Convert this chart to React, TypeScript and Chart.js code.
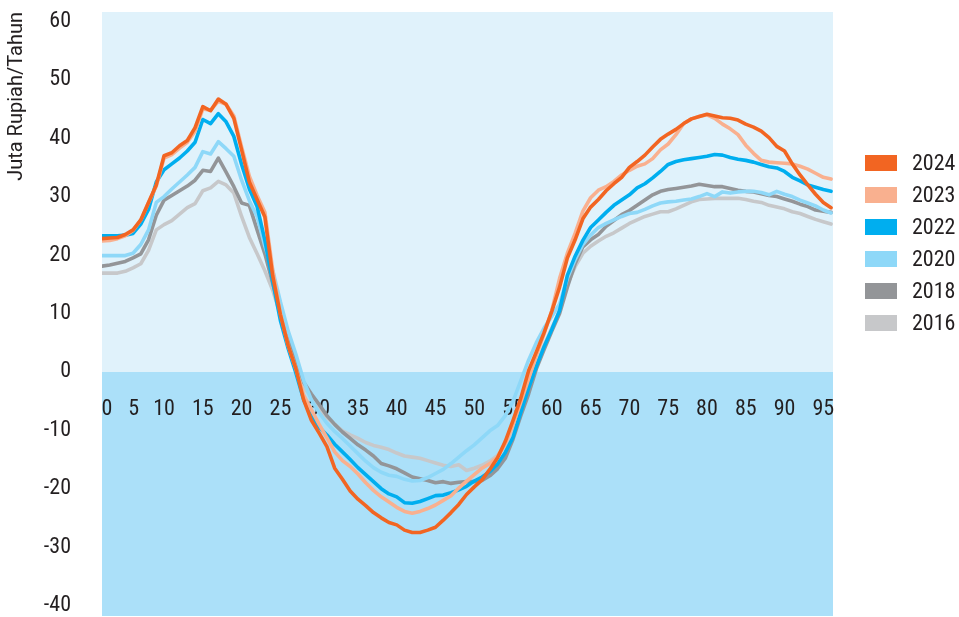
import React, { useEffect, useRef } from "react";
import { Chart, registerables } from "chart.js";

Chart.register(...registerables);

// Ages 2..96 (first plotted age is 2; the axis starts there)
const FIRST_AGE = 2;
const AGE_COUNT = 95;
const ages: number[] = Array.from({ length: AGE_COUNT }, (_, i) => FIRST_AGE + i);

const seriesLabels = ["2024", "2023", "2022", "2020", "2018", "2016"];
const seriesColors = ["#f26522", "#f9b08f", "#00aeef", "#8ed8f8", "#939598", "#c7c8ca"];

const s2024 = [
  22.8, 22.9, 23.0, 23.5, 24.3, 26.0, 29.0, 32.0, 37.0, 37.5,
  38.7, 39.6, 41.8, 45.4, 44.7, 46.7, 45.8, 43.4, 38.0, 32.5,
  29.5, 26.5, 16.5, 9.8, 4.5, 0.5, -4.8, -8.3, -10.5, -12.8,
  -16.5, -18.4, -20.4, -21.8, -22.9, -24.1, -25.0, -25.8, -26.2, -27.1,
  -27.5, -27.5, -27.1, -26.6, -25.4, -24.1, -22.7, -21.0, -19.7, -18.5,
  -16.7, -14.7, -11.9, -8.3, -4.5, 0.2, 3.4, 6.7, 10.4, 14.5,
  19.5, 22.6, 26.2, 28.2, 29.5, 31.0, 32.2, 33.3, 35.0, 36.0,
  37.1, 38.5, 39.8, 40.7, 41.5, 42.5, 43.3, 43.7, 44.1, 43.8,
  43.5, 43.4, 43.1, 42.4, 41.9, 41.2, 40.1, 38.6, 37.8, 35.6,
  33.7, 32.0, 30.4, 29.0, 28.1,
];
const s2023 = [
  22.4, 22.5, 22.8, 23.3, 24.2, 26.0, 29.0, 31.8, 36.6, 37.2,
  38.3, 39.3, 41.2, 45.0, 44.8, 46.3, 45.8, 43.8, 38.5, 33.5,
  30.2, 27.3, 17.5, 10.0, 4.5, 0.5, -4.0, -6.5, -9.0, -11.3,
  -13.7, -15.2, -16.2, -17.5, -19.0, -20.3, -21.4, -22.3, -23.2, -23.9,
  -24.2, -23.9, -23.4, -22.8, -22.0, -21.2, -19.9, -18.7, -17.6, -16.5,
  -15.7, -14.6, -12.2, -9.0, -5.2, -1.2, 2.8, 6.5, 10.5, 16.0,
  20.3, 23.7, 27.5, 29.8, 31.1, 31.7, 32.6, 33.7, 34.5, 35.2,
  35.6, 36.5, 38.0, 39.0, 40.6, 42.5, 43.3, 43.7, 44.0, 43.4,
  42.4, 41.6, 40.6, 38.8, 37.4, 36.2, 35.9, 35.8, 35.7, 35.6,
  35.2, 34.7, 34.0, 33.3, 33.0,
];
const s2022 = [
  23.3, 23.3, 23.3, 23.4, 23.7, 25.3, 27.8, 32.5, 34.6, 35.6,
  36.6, 37.8, 39.3, 43.2, 42.5, 44.2, 42.8, 40.3, 35.5, 31.3,
  28.3, 22.5, 15.5, 8.8, 4.0, -0.2, -4.8, -7.5, -9.5, -10.8,
  -12.4, -13.7, -15.0, -16.4, -17.6, -18.8, -20.0, -20.9, -21.4, -22.4,
  -22.5, -22.2, -21.7, -21.2, -21.1, -20.7, -20.2, -19.6, -18.7, -18.0,
  -17.1, -15.8, -13.8, -11.2, -6.9, -2.8, 0.9, 4.3, 7.3, 10.5,
  16.5, 19.8, 22.5, 24.7, 26.0, 27.3, 28.5, 29.4, 30.3, 31.5,
  32.2, 33.2, 34.3, 35.5, 36.0, 36.3, 36.5, 36.7, 36.9, 37.2,
  37.1, 36.7, 36.4, 36.2, 35.9, 35.5, 35.1, 34.9, 34.3, 33.3,
  32.7, 32.0, 31.6, 31.2, 30.9,
];
const s2020 = [
  19.9, 19.9, 19.9, 19.9, 20.3, 21.8, 24.3, 29.0, 30.0, 31.3,
  32.5, 33.7, 35.0, 37.7, 37.3, 39.4, 38.2, 36.9, 32.8, 29.3,
  26.6, 21.5, 17.5, 12.0, 7.0, 3.0, -1.5, -4.8, -7.0, -8.8,
  -10.2, -11.4, -12.7, -14.0, -15.3, -16.4, -17.2, -17.7, -17.9, -18.4,
  -18.7, -18.6, -18.1, -17.4, -16.7, -15.7, -14.6, -13.5, -12.5, -11.3,
  -10.1, -9.2, -7.5, -5.0, -1.5, 2.0, 5.0, 7.5, 9.5, 11.6,
  16.0, 19.2, 21.8, 23.4, 24.7, 25.4, 26.0, 26.6, 27.1, 27.3,
  27.8, 28.4, 28.9, 29.1, 29.2, 29.4, 29.6, 30.0, 30.5, 30.0,
  30.8, 30.6, 30.8, 30.9, 30.9, 30.7, 30.3, 30.9, 30.4, 30.0,
  29.4, 28.9, 28.4, 27.7, 27.2,
];
const s2018 = [
  18.1, 18.3, 18.6, 18.9, 19.5, 20.2, 22.6, 26.8, 29.4, 30.2,
  31.0, 31.8, 32.8, 34.5, 34.3, 36.6, 34.2, 31.7, 28.9, 28.5,
  24.3, 20.2, 15.2, 10.5, 6.0, 2.0, -1.8, -3.8, -5.6, -7.5,
  -9.0, -10.3, -11.4, -12.5, -13.4, -14.4, -15.7, -16.1, -16.6, -17.3,
  -18.0, -18.3, -18.6, -19.0, -18.8, -19.1, -18.9, -18.8, -18.8, -18.6,
  -17.8, -16.6, -14.8, -11.5, -7.5, -3.8, 0.5, 3.8, 7.0, 10.0,
  14.5, 18.5, 21.4, 22.6, 23.5, 24.9, 25.9, 26.9, 27.6, 28.5,
  29.4, 30.3, 30.9, 31.2, 31.4, 31.6, 31.8, 32.1, 31.9, 31.7,
  31.7, 31.4, 31.1, 30.9, 30.8, 30.5, 30.2, 30.0, 29.6, 29.2,
  28.7, 28.3, 27.7, 27.5, 27.3,
];
const s2016 = [
  16.9, 16.9, 16.9, 17.2, 17.8, 18.5, 20.8, 24.3, 25.2, 25.9,
  27.0, 28.1, 28.8, 31.0, 31.5, 32.6, 32.0, 30.6, 26.6, 23.0,
  20.2, 17.3, 14.0, 9.8, 5.6, 1.4, -2.5, -4.4, -6.2, -7.8,
  -9.0, -10.1, -10.8, -11.4, -12.1, -12.6, -12.9, -13.3, -13.9, -14.4,
  -14.6, -14.8, -15.2, -15.6, -16.0, -16.2, -15.9, -16.9, -16.5, -16.0,
  -15.3, -14.3, -12.5, -9.8, -6.5, -2.2, 1.2, 4.5, 7.5, 10.4,
  15.0, 18.0, 20.3, 21.5, 22.4, 23.2, 23.8, 24.6, 25.4, 26.0,
  26.6, 27.0, 27.4, 27.4, 27.9, 28.5, 29.1, 29.5, 29.6, 29.7,
  29.7, 29.7, 29.7, 29.5, 29.2, 29.0, 28.5, 28.2, 27.9, 27.4,
  27.1, 26.6, 26.1, 25.7, 25.3,
];
const seriesValues = [s2024, s2023, s2022, s2020, s2018, s2016];

// Tick labels every 5 years; the first two labels sit nudged right, as in the source
const xTickLabels = ["0", "5", "10", "15", "20", "25", "30", "35", "40", "45", "50", "55", "60", "65", "70", "75", "80", "85", "90", "95"];
const xTickPositions = [2.65, 6.1, 10, 15, 20, 25, 30, 35, 40, 45, 50, 55, 60, 65, 70, 75, 80, 85, 90, 95];
const yTickValues = [-40, -30, -20, -10, 0, 10, 20, 30, 40, 50, 60];
const yTitle = "Juta Rupiah/Tahun";

const FONT = "'Liberation Sans Narrow', 'Arial Narrow', 'Roboto Condensed', Roboto, sans-serif";
const TITLE_FONT = "Roboto, 'Liberation Sans', sans-serif";
const TEXT_COLOR = "#231f20";
const BG_TOP = "#e0f2fb";
const BG_BOTTOM = "#abe0f9";

const bandsPlugin = {
  id: "bands",
  beforeDraw(chart: any) {
    const { ctx, chartArea: a, scales } = chart;
    const y0 = Math.round(scales.y.getPixelForValue(0));
    ctx.save();
    ctx.fillStyle = BG_TOP;
    ctx.fillRect(a.left, a.top, a.right - a.left, y0 - a.top);
    ctx.fillStyle = BG_BOTTOM;
    ctx.fillRect(a.left, y0, a.right - a.left, a.bottom - y0);
    ctx.restore();
  },
};

const legendPlugin = {
  id: "sideLegend",
  afterDraw(chart: any) {
    const { ctx, chartArea: a } = chart;
    const x0 = a.right + 32;
    ctx.save();
    ctx.font = `22px ${FONT}`;
    ctx.textBaseline = "middle";
    ctx.textAlign = "left";
    chart.data.datasets.forEach((ds: any, i: number) => {
      const cy = 163 + i * 32;
      ctx.fillStyle = ds.borderColor;
      ctx.fillRect(x0, cy - 8, 32, 16);
      ctx.fillStyle = TEXT_COLOR;
      ctx.fillText(ds.label, x0 + 47, cy + 1);
    });
    ctx.restore();
  },
};

export default function App() {
  const ref = useRef<HTMLCanvasElement | null>(null);

  useEffect(() => {
    if (!ref.current) return;
    const chart = new Chart(ref.current, {
      type: "line",
      data: {
        datasets: seriesLabels.map((label, k) => ({
          label,
          data: ages.map((a, i) => ({ x: a, y: seriesValues[k][i] })),
          borderColor: seriesColors[k],
          backgroundColor: seriesColors[k],
          borderWidth: 3.6,
          pointRadius: 0,
          tension: 0,
          fill: false,
          borderJoinStyle: "round",
          borderCapStyle: "round",
        })),
      },
      options: {
        animation: false,
        responsive: false,
        events: [],
        layout: { padding: { left: 0, top: 12, right: 126, bottom: 1 } },
        plugins: { legend: { display: false }, tooltip: { enabled: false } },
        scales: {
          x: {
            type: "linear",
            min: 2,
            max: 96.25,
            position: { y: 0 } as any,
            grid: { display: false, drawTicks: false },
            border: { display: false },
            afterBuildTicks: (s: any) => {
              s.ticks = xTickPositions.map((v) => ({ value: v }));
            },
            afterFit: (s: any) => {
              s.paddingLeft = 0;
              s.paddingRight = 0;
              s.paddingTop = 0;
              s.paddingBottom = 0;
            },
            ticks: {
              autoSkip: false,
              maxRotation: 0,
              minRotation: 0,
              padding: 27,
              color: TEXT_COLOR,
              font: { family: FONT, size: 22, lineHeight: 1 },
              callback: (_v: any, i: number) => xTickLabels[i],
            },
          },
          y: {
            type: "linear",
            min: -41.8,
            max: 61.6,
            grid: { display: false, drawTicks: false },
            border: { display: false },
            afterBuildTicks: (s: any) => {
              s.ticks = yTickValues.map((v) => ({ value: v }));
            },
            afterFit: (s: any) => {
              s.width = 102;
              s.paddingTop = 0;
              s.paddingBottom = 0;
            },
            ticks: {
              padding: 31,
              color: TEXT_COLOR,
              font: { family: FONT, size: 22, lineHeight: 1 },
              callback: (v: any) => String(v),
            },
            title: {
              display: true,
              text: yTitle,
              align: "end",
              color: TEXT_COLOR,
              font: { family: TITLE_FONT, size: 20, lineHeight: 1.2 },
              padding: { top: 5, bottom: 0 },
            },
          },
        },
      },
      plugins: [bandsPlugin, legendPlugin],
    });
    return () => chart.destroy();
  }, []);

  return (
    <div style={{ position: "fixed", left: 0, top: 0, width: 959, height: 617 }}>
      <canvas ref={ref} width={959} height={617} style={{ display: "block", width: 959, height: 617 }} />
    </div>
  );
}
